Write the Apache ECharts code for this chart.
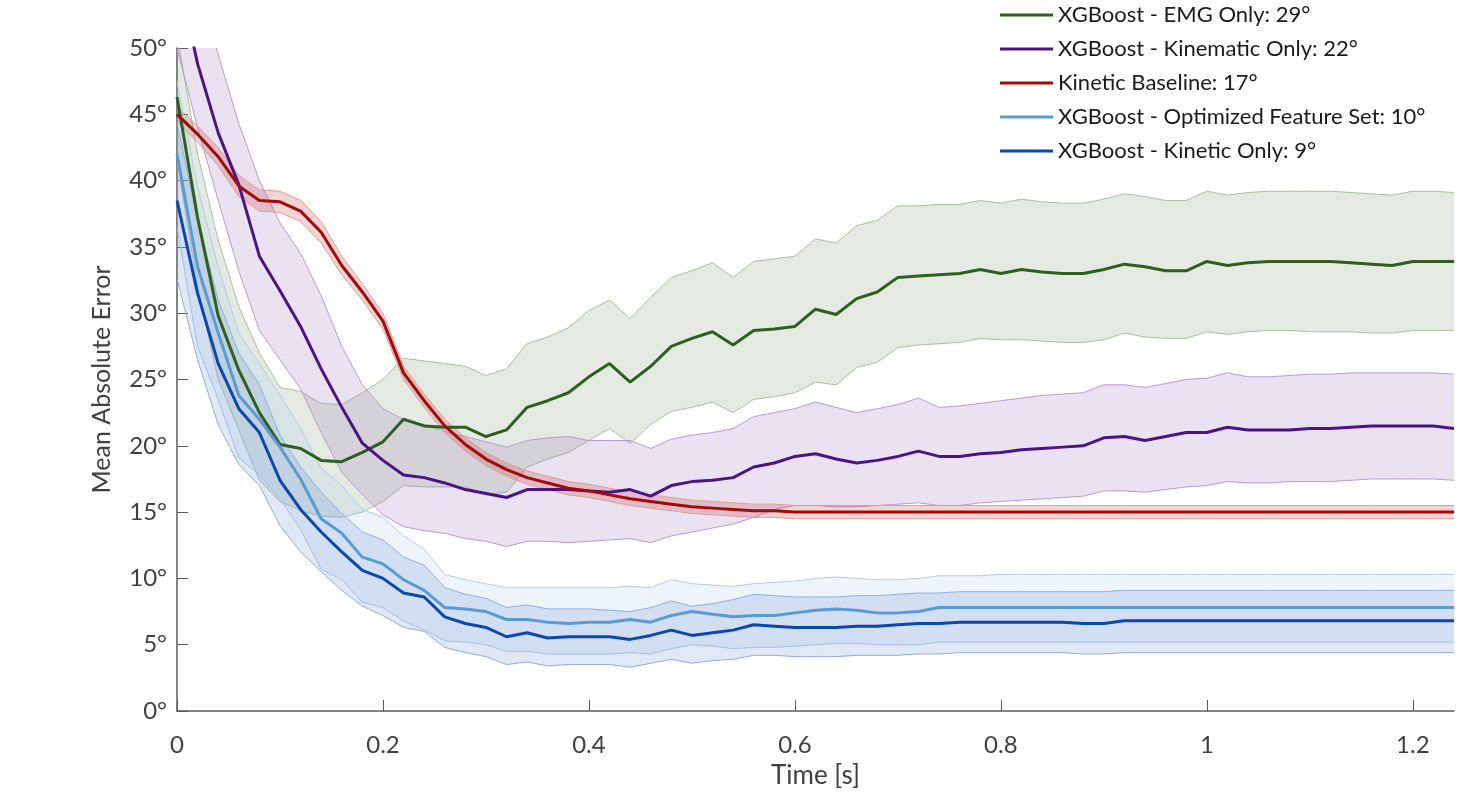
<!DOCTYPE html>
<html>
<head>
<meta charset="utf-8">
<title>Mean Absolute Error over time</title>
<script src="https://cdn.jsdelivr.net/npm/echarts@6.0.0/dist/echarts.min.js"></script>
<style>
html,body{margin:0;padding:0;background:#fff;}
#chart{width:1460px;height:808px;}
</style>
</head>
<body>
<div id="chart"></div>
<script>
// time axis (s)
var time = [0,0.02,0.04,0.06,0.08,0.1,0.12,0.14,0.16,0.18,
  0.2,0.22,0.24,0.26,0.28,0.3,0.32,0.34,0.36,0.38,
  0.4,0.42,0.44,0.46,0.48,0.5,0.52,0.54,0.56,0.58,
  0.6,0.62,0.64,0.66,0.68,0.7,0.72,0.74,0.76,0.78,
  0.8,0.82,0.84,0.86,0.88,0.9,0.92,0.94,0.96,0.98,
  1,1.02,1.04,1.06,1.08,1.1,1.12,1.14,1.16,1.18,
  1.2,1.22,1.24];

// XGBoost - EMG Only
var emgMean = [46.3,37.2,29.8,25.7,22.5,20.1,19.8,18.9,18.8,19.5,
  20.3,22.0,21.5,21.4,21.4,20.7,21.2,22.9,23.4,24.0,
  25.2,26.2,24.8,26.0,27.5,28.1,28.6,27.6,28.7,28.8,
  29.0,30.3,29.9,31.1,31.6,32.7,32.8,32.9,33.0,33.3,
  33.0,33.3,33.1,33.0,33.0,33.3,33.7,33.5,33.2,33.2,
  33.9,33.6,33.8,33.9,33.9,33.9,33.9,33.8,33.7,33.6,
  33.9,33.9,33.9];
var emgHi = [51.0,42.0,35.5,30.5,27.0,24.4,24.1,23.2,23.1,24.0,
  25.0,26.6,26.4,26.2,26.0,25.3,25.8,27.7,28.2,28.9,
  30.2,31.0,29.6,31.2,32.7,33.2,33.8,32.7,33.9,34.1,
  34.3,35.6,35.3,36.6,37.0,38.1,38.1,38.2,38.2,38.5,
  38.3,38.6,38.4,38.3,38.3,38.6,39.0,38.8,38.5,38.5,
  39.2,38.9,39.1,39.2,39.2,39.2,39.2,39.1,39.0,38.9,
  39.2,39.2,39.1];
var emgLo = [41.5,32.0,25.0,21.2,17.4,15.8,15.1,14.7,14.6,15.0,
  15.8,17.0,16.9,16.9,16.9,16.3,16.5,18.4,19.0,19.5,
  20.4,21.3,20.2,21.6,22.6,22.9,23.3,22.5,23.5,23.7,
  24.0,24.8,24.6,25.9,26.3,27.4,27.6,27.7,27.8,28.1,
  28.0,28.0,27.9,27.8,27.8,28.0,28.5,28.2,28.1,28.1,
  28.6,28.4,28.6,28.7,28.7,28.6,28.6,28.6,28.5,28.5,
  28.7,28.7,28.7];

// XGBoost - Kinematic Only
var kinematicMean = [56.0,48.8,43.6,39.7,34.3,31.7,29.0,25.8,22.9,20.2,
  18.9,17.8,17.6,17.2,16.7,16.4,16.1,16.7,16.7,16.7,
  16.6,16.5,16.7,16.2,17.0,17.3,17.4,17.6,18.4,18.7,
  19.2,19.4,19.0,18.7,18.9,19.2,19.6,19.2,19.2,19.4,
  19.5,19.7,19.8,19.9,20.0,20.6,20.7,20.4,20.7,21.0,
  21.0,21.4,21.2,21.2,21.2,21.3,21.3,21.4,21.5,21.5,
  21.5,21.5,21.3];
var kinematicHi = [62.0,55.0,49.5,44.3,40.0,36.8,34.5,31.3,27.5,24.6,
  22.8,22.0,21.6,21.1,20.7,20.3,19.9,20.4,20.6,20.7,
  20.4,20.4,20.4,19.8,20.5,20.8,21.0,21.3,22.2,22.5,
  22.8,23.3,22.9,22.5,22.8,23.1,23.6,22.9,23.0,23.2,
  23.4,23.6,23.8,23.9,24.0,24.6,24.6,24.4,24.7,25.0,
  25.1,25.5,25.2,25.2,25.3,25.4,25.4,25.5,25.5,25.5,
  25.5,25.5,25.4];
var kinematicLo = [50.0,44.0,38.5,33.2,28.7,26.5,24.3,21.0,18.0,16.3,
  14.8,13.9,13.6,13.4,13.0,12.8,12.4,12.8,12.8,12.7,
  12.8,12.9,13.0,12.7,13.2,13.5,13.8,14.1,14.6,15.2,
  15.5,15.5,15.4,15.4,15.5,15.6,15.7,15.5,15.5,15.7,
  15.8,15.9,16.0,16.1,16.2,16.6,16.6,16.5,16.7,16.9,
  17.0,17.3,17.2,17.2,17.3,17.3,17.3,17.4,17.5,17.5,
  17.5,17.5,17.4];

// Kinetic Baseline
var baseMean = [45.0,43.5,41.8,39.6,38.5,38.4,37.7,36.1,33.6,31.6,
  29.4,25.5,23.4,21.5,20.1,19.0,18.2,17.6,17.2,16.8,
  16.6,16.3,16.0,15.8,15.6,15.4,15.3,15.2,15.1,15.1,
  15.0,15.0,15.0,15.0,15.0,15.0,15.0,15.0,15.0,15.0,
  15.0,15.0,15.0,15.0,15.0,15.0,15.0,15.0,15.0,15.0,
  15.0,15.0,15.0,15.0,15.0,15.0,15.0,15.0,15.0,15.0,
  15.0,15.0,15.0];
var baseHi = [45.6,44.1,42.5,40.4,39.3,39.2,38.5,36.9,34.3,32.2,
  30.0,26.0,23.9,22.0,20.6,19.5,18.7,18.1,17.7,17.3,
  17.1,16.8,16.5,16.3,16.1,15.9,15.8,15.7,15.6,15.6,
  15.5,15.5,15.5,15.5,15.5,15.5,15.5,15.5,15.5,15.5,
  15.5,15.5,15.5,15.5,15.5,15.5,15.5,15.5,15.5,15.5,
  15.5,15.5,15.5,15.5,15.5,15.5,15.5,15.5,15.5,15.5,
  15.5,15.5,15.5];
var baseLo = [44.4,42.9,41.1,38.8,37.7,37.6,36.9,35.3,32.9,31.0,
  28.8,25.0,22.9,21.0,19.6,18.5,17.7,17.1,16.7,16.3,
  16.1,15.8,15.5,15.3,15.1,14.9,14.8,14.7,14.6,14.6,
  14.5,14.5,14.5,14.5,14.5,14.5,14.5,14.5,14.5,14.5,
  14.5,14.5,14.5,14.5,14.5,14.5,14.5,14.5,14.5,14.5,
  14.5,14.5,14.5,14.5,14.5,14.5,14.5,14.5,14.5,14.5,
  14.5,14.5,14.5];

// XGBoost - Optimized Feature Set
var optMean = [42.0,33.5,28.5,23.8,22.0,19.9,17.5,14.5,13.4,11.6,
  11.1,9.9,9.1,7.8,7.7,7.5,6.9,6.9,6.7,6.6,
  6.7,6.7,6.9,6.7,7.2,7.5,7.3,7.1,7.2,7.2,
  7.4,7.6,7.7,7.6,7.4,7.4,7.5,7.8,7.8,7.8,
  7.8,7.8,7.8,7.8,7.8,7.8,7.8,7.8,7.8,7.8,
  7.8,7.8,7.8,7.8,7.8,7.8,7.8,7.8,7.8,7.8,
  7.8,7.8,7.8];
var optHi = [47.5,39.5,33.5,28.5,26.2,23.8,21.3,18.3,17.0,15.2,
  14.6,13.2,12.2,10.3,9.9,9.6,9.3,9.3,9.3,9.3,
  9.3,9.3,9.4,9.3,9.9,9.6,9.5,9.4,9.6,9.7,
  9.8,10.0,10.1,10.0,9.9,9.9,10.0,10.2,10.2,10.2,
  10.3,10.3,10.3,10.3,10.3,10.3,10.3,10.3,10.3,10.3,
  10.3,10.3,10.3,10.3,10.3,10.3,10.3,10.3,10.3,10.3,
  10.3,10.3,10.3];
var optLo = [36.5,27.5,23.5,19.1,17.8,16.0,13.7,10.7,9.9,8.2,
  7.8,6.8,6.1,5.3,5.2,5.0,4.5,4.5,4.3,4.3,
  4.3,4.3,4.4,4.3,4.7,5.0,4.9,4.7,4.8,4.8,
  4.9,5.0,5.1,5.1,5.0,5.0,5.0,5.2,5.2,5.2,
  5.2,5.2,5.2,5.2,5.2,5.2,5.2,5.2,5.2,5.2,
  5.2,5.2,5.2,5.2,5.2,5.2,5.2,5.2,5.2,5.2,
  5.2,5.2,5.2];

// XGBoost - Kinetic Only
var kineticMean = [38.5,31.5,26.2,22.8,21.0,17.4,15.2,13.5,12.0,10.6,
  10.0,8.9,8.6,7.1,6.6,6.3,5.6,5.9,5.5,5.6,
  5.6,5.6,5.4,5.7,6.1,5.7,5.9,6.1,6.5,6.4,
  6.3,6.3,6.3,6.4,6.4,6.5,6.6,6.6,6.7,6.7,
  6.7,6.7,6.7,6.7,6.6,6.6,6.8,6.8,6.8,6.8,
  6.8,6.8,6.8,6.8,6.8,6.8,6.8,6.8,6.8,6.8,
  6.8,6.8,6.8];
var kineticHi = [44.4,37.0,31.0,27.0,24.6,20.8,18.4,16.5,14.9,13.5,
  12.9,11.6,11.0,9.3,8.8,8.5,7.8,8.0,7.7,7.7,
  7.7,7.6,7.5,7.8,8.3,7.9,8.1,8.4,8.8,8.7,
  8.6,8.6,8.6,8.7,8.7,8.8,8.9,8.9,9.0,9.0,
  9.0,9.0,9.0,9.0,9.0,9.0,9.1,9.1,9.1,9.1,
  9.1,9.1,9.1,9.1,9.1,9.1,9.1,9.1,9.1,9.1,
  9.1,9.1,9.1];
var kineticLo = [32.6,26.5,21.6,18.6,17.0,14.0,12.0,10.5,9.1,7.9,
  7.2,6.3,6.0,4.8,4.4,4.1,3.5,3.7,3.4,3.5,
  3.5,3.5,3.3,3.6,3.9,3.6,3.8,3.9,4.2,4.2,
  4.1,4.1,4.1,4.2,4.2,4.2,4.3,4.3,4.4,4.4,
  4.4,4.4,4.4,4.4,4.3,4.3,4.4,4.4,4.4,4.4,
  4.4,4.4,4.4,4.4,4.4,4.4,4.4,4.4,4.4,4.4,
  4.4,4.4,4.4];

var xTicks = [0,0.2,0.4,0.6,0.8,1,1.2];
var names = ['XGBoost - EMG Only: 29°','XGBoost - Kinematic Only: 22°','Kinetic Baseline: 17°',
  'XGBoost - Optimized Feature Set: 10°','XGBoost - Kinetic Only: 9°'];

var FONT = 'Lato, "Open Sans", sans-serif';

function pairs(ys){
  return time.map(function(t, i){ return [t, ys[i]]; });
}
// shaded band between lo and hi, with thin edge lines
function band(key, lo, hi, edge, fill){
  return {
    name: key, type: 'custom', silent: true, clip: true, z: 1,
    data: time.map(function(t, i){ return [t, lo[i], hi[i]]; }),
    encode: {x: 0, y: [1, 2]},
    renderItem: function(params, api){
      if (params.dataIndex !== 0) return null;
      var up = [], dn = [];
      for (var i = 0; i < time.length; i++){
        up.push(api.coord([time[i], hi[i]]));
        dn.push(api.coord([time[i], lo[i]]));
      }
      return {type: 'group', children: [
        {type: 'polygon', shape: {points: up.concat(dn.slice().reverse())}, style: {fill: fill}},
        {type: 'polyline', shape: {points: up}, style: {stroke: edge, lineWidth: 1, fill: null}},
        {type: 'polyline', shape: {points: dn}, style: {stroke: edge, lineWidth: 1, fill: null}}
      ]};
    }
  };
}
function mean(name, ys, color){
  return {name: name, type: 'line', symbol: 'none', z: 3, data: pairs(ys),
    lineStyle: {color: color, width: 3}, itemStyle: {color: color}};
}

var series = [
  band('emg', emgLo, emgHi, '#a9c0a0', 'rgba(120,150,110,0.2)'),
  band('kinematic', kinematicLo, kinematicHi, '#b89ad6', 'rgba(150,110,180,0.2)'),
  band('base', baseLo, baseHi, '#e39a9a', 'rgba(190,40,40,0.2)'),
  band('opt', optLo, optHi, '#b2cbec', 'rgba(170,200,240,0.2)'),
  band('kinetic', kineticLo, kineticHi, '#8eaee2', 'rgba(100,140,210,0.2)'),
  mean(names[0], emgMean, '#2e5f1f'),
  mean(names[1], kinematicMean, '#4a1486'),
  mean(names[2], baseMean, '#a50a0a'),
  mean(names[3], optMean, '#5b9bd5'),
  mean(names[4], kineticMean, '#0a47b0')
];

var chart = echarts.init(document.getElementById('chart'));
chart.setOption({
  animation: false,
  backgroundColor: '#fff',
  textStyle: {fontFamily: FONT},
  grid: {left: 177, right: 6, top: 48, bottom: 97, containLabel: false},
  legend: {
    data: names,
    orient: 'vertical',
    left: 995,
    top: 4,
    padding: [0, 5, 0, 5],
    icon: 'rect',
    itemWidth: 53,
    itemHeight: 3,
    itemGap: 12,
    selectedMode: false,
    textStyle: {fontSize: 22, color: '#1a1a1a', fontFamily: FONT}
  },
  xAxis: {
    type: 'value',
    min: 0,
    max: 1.24,
    interval: 0.2,
    name: 'Time [s]',
    nameLocation: 'middle',
    nameGap: 52,
    nameTextStyle: {fontSize: 26, color: '#404040', fontFamily: FONT},
    axisLine: {lineStyle: {color: '#5a5a5a', width: 1.5}},
    axisTick: {inside: true, length: 11, lineStyle: {color: '#5a5a5a'}, customValues: xTicks},
    axisLabel: {fontSize: 24, color: '#404040', margin: 22, customValues: xTicks, fontFamily: FONT},
    splitLine: {show: false}
  },
  yAxis: {
    type: 'value',
    min: 0,
    max: 50,
    interval: 5,
    name: 'Mean Absolute Error',
    nameLocation: 'middle',
    nameGap: 63,
    nameTextStyle: {fontSize: 25, color: '#404040', fontFamily: FONT},
    axisLine: {show: true, lineStyle: {color: '#5a5a5a', width: 1.5}},
    axisTick: {show: true, inside: true, length: 11, lineStyle: {color: '#5a5a5a'}},
    axisLabel: {fontSize: 24, color: '#404040', margin: 10, formatter: '{value}°', fontFamily: FONT},
    splitLine: {show: false}
  },
  series: series
});
</script>
</body>
</html>
